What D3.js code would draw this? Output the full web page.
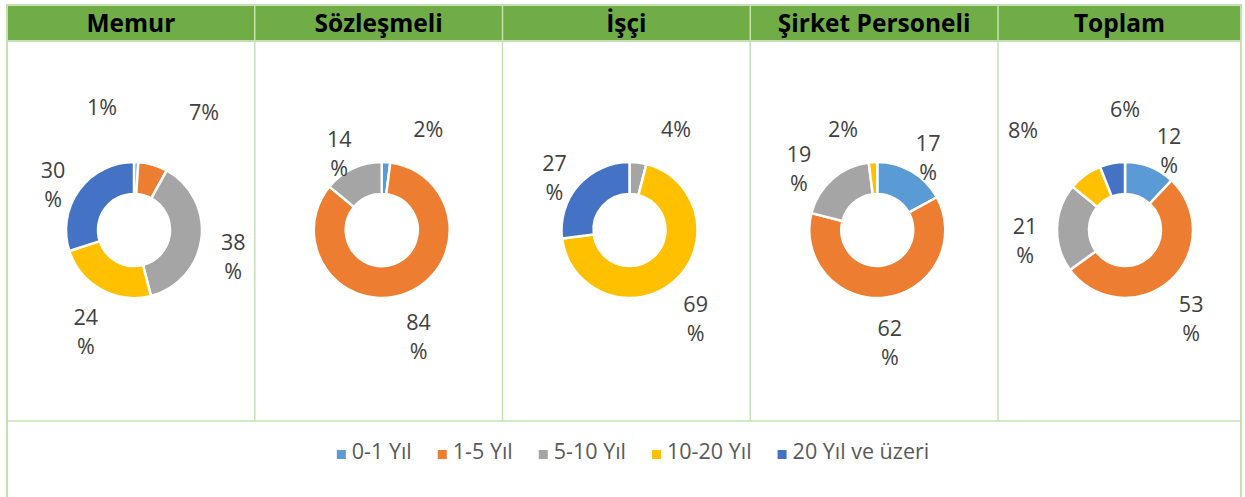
<!DOCTYPE html>
<html>
<head>
<meta charset="utf-8">
<script src="https://cdn.jsdelivr.net/npm/d3@7"></script>
<style>
body { margin:0; background:white; }
svg text { font-family:"Open Sans", "Noto Sans", sans-serif; }
</style>
</head>
<body>
<svg id="chart"></svg>
<script>

//panel titles and legend categories
var panels = ["Memur", "Sözleşmeli", "İşçi", "Şirket Personeli", "Toplam"];
var categories = ["0-1 Yıl", "1-5 Yıl", "5-10 Yıl", "10-20 Yıl", "20 Yıl ve üzeri"];

//percentages per panel, in category order
var memurValues = [1, 7, 38, 24, 30];
var sozlesmeliValues = [2, 84, 14, 0, 0];
var isciValues = [0, 0, 4, 69, 27];
var sirketValues = [17, 62, 19, 2, 0];
var toplamValues = [12, 53, 21, 8, 6];

var panelValues = [memurValues, sozlesmeliValues, isciValues, sirketValues, toplamValues];

var colors = ["#5B9BD5", "#ED7D31", "#A5A5A5", "#FFC000", "#4472C4"];


var screen = {width:1245, height:497};

//table layout
var table = {left:7, right:1241, top:5, headerBottom:41, bodyBottom:421, colWidth:247.75};
var lineColor = "#C5E0B3";

var svg = d3.select("svg#chart")
    .attr("width", screen.width)
    .attr("height", screen.height)
    .style("display", "block");

var colLeft = function(i) { return table.left + i * table.colWidth; };
var colRight = function(i) { return i == panels.length - 1 ? table.right : colLeft(i + 1); };


var drawTable = function()
{
    var t = svg.append("g").classed("table", true);

    //header row
    t.append("rect")
        .attr("x", table.left)
        .attr("y", table.top)
        .attr("width", table.right - table.left)
        .attr("height", table.headerBottom - table.top)
        .attr("fill", "#70AD47");

    t.selectAll("text.title")
        .data(panels)
        .enter()
        .append("text")
        .classed("title", true)
        .attr("x", function(d, i) { return (colLeft(i) + colRight(i)) / 2; })
        .attr("y", 32)
        .attr("text-anchor", "middle")
        .attr("font-size", "24.5px")
        .attr("font-weight", "bold")
        .attr("fill", "black")
        .text(function(d) { return d; });

    //column dividers
    t.selectAll("line.col")
        .data(d3.range(1, panels.length))
        .enter()
        .append("line")
        .classed("col", true)
        .attr("x1", function(i) { return colLeft(i); })
        .attr("x2", function(i) { return colLeft(i); })
        .attr("y1", table.top)
        .attr("y2", table.bodyBottom)
        .attr("stroke", lineColor)
        .attr("stroke-width", 1.5);

    //horizontal rules
    [table.top, table.headerBottom, table.bodyBottom].forEach(function(y) {
        t.append("line")
            .attr("x1", table.left)
            .attr("x2", table.right)
            .attr("y1", y)
            .attr("y2", y)
            .attr("stroke", lineColor)
            .attr("stroke-width", y == table.bodyBottom ? 1.5 : 2);
    });

    //outer sides
    [table.left, table.right].forEach(function(x) {
        t.append("line")
            .attr("x1", x)
            .attr("x2", x)
            .attr("y1", table.top - 1)
            .attr("y2", screen.height)
            .attr("stroke", lineColor)
            .attr("stroke-width", 2);
    });
}


var drawDonut = function(values, i)
{
    var cx = colLeft(i) + 127;
    var cy = 230;
    var outer = 68, inner = 36;

    var pie = d3.pie().sort(null).value(function(d) { return d; });
    var arc = d3.arc().innerRadius(inner).outerRadius(outer);

    var arcs = pie(values);
    var shown = arcs.filter(function(a) { return a.value > 0; });

    var g = svg.append("g")
        .classed("donut", true)
        .attr("transform", "translate(" + cx + "," + cy + ")");

    g.selectAll("path")
        .data(shown)
        .enter()
        .append("path")
        .attr("d", arc)
        .attr("fill", function(a) { return colors[a.index]; })
        .attr("stroke", "white")
        .attr("stroke-width", 2.5)
        .attr("stroke-linejoin", "round");

    //labels sit outside the ring along the slice's middle angle
    var singles = shown.filter(function(a) { return String(a.value).length == 1; }).length;
    var labels = shown.map(function(a) {
        var mid = (a.startAngle + a.endAngle) / 2;
        var twoLine = String(a.value).length > 1;
        var r = twoLine ? 100 : 122;
        //a lone small label near the top is moved off to the side
        var limit = 25 * Math.PI / 180;
        var off = mid > Math.PI ? mid - 2 * Math.PI : mid;
        if (!twoLine && singles == 1 && Math.abs(off) < limit) {
            mid = off < 0 ? -limit : limit;
            r = 110;
        }
        return {value:a.value, twoLine:twoLine, mid:mid,
                x:Math.sin(mid) * r, y:-Math.cos(mid) * r + (twoLine ? 14 : 0)};
    });

    var texts = g.selectAll("text")
        .data(labels)
        .enter()
        .append("text")
        .attr("text-anchor", "middle")
        .attr("font-size", "21.5px")
        .attr("fill", "#404040");

    texts.each(function(d) {
        var el = d3.select(this);
        if (d.twoLine) {
            el.append("tspan").attr("x", 0).attr("dy", -7).text(d.value);
            el.append("tspan").attr("x", 0).attr("dy", 29).text("%");
            d.w = 28; d.h = 56;
        } else {
            el.append("tspan").attr("x", 0).attr("dy", 7).text(d.value + "%");
            d.w = 32; d.h = 27;
        }
    });

    //push overlapping labels apart sideways
    for (var k = 0; k < 60; k++) {
        for (var a = 0; a < labels.length; a++) {
            for (var b = a + 1; b < labels.length; b++) {
                var p = labels[a], q = labels[b];
                var pad = (!p.twoLine && !q.twoLine) ? 70 : 14;
                var ox = (p.w + q.w) / 2 + pad - Math.abs(p.x - q.x);
                var oy = (p.h + q.h) / 2 - Math.abs(p.y - q.y);
                if (ox > 0 && oy > 0) {
                    var s = p.x < q.x ? -1 : 1;
                    p.x += s * ox / 2;
                    q.x -= s * ox / 2;
                }
            }
        }
    }

    texts.attr("transform", function(d) {
        return "translate(" + d.x + "," + d.y + ")";
    });
}


var drawLegend = function()
{
    var legend = svg.append("g").classed("legend", true);

    var items = legend.selectAll("g")
        .data(categories)
        .enter()
        .append("g");

    items.append("rect")
        .attr("width", 9)
        .attr("height", 9)
        .attr("y", -9)
        .attr("fill", function(d, i) { return colors[i]; });

    items.append("text")
        .attr("x", 15)
        .attr("y", 0)
        .attr("font-size", "21.5px")
        .attr("fill", "#595959")
        .text(function(d) { return d; });

    var x = 0;
    items.each(function() {
        var w = d3.select(this).select("text").node().getComputedTextLength();
        d3.select(this).attr("transform", "translate(" + x + ",0)");
        x += 15 + w + 26;
    });
    var total = x - 26;

    var centre = (table.left + table.right) / 2 + 9;
    legend.attr("transform", "translate(" + (centre - total / 2) + ",459)");
}


drawTable();
panelValues.forEach(function(values, i) { drawDonut(values, i); });
drawLegend();

</script>
</body>
</html>
